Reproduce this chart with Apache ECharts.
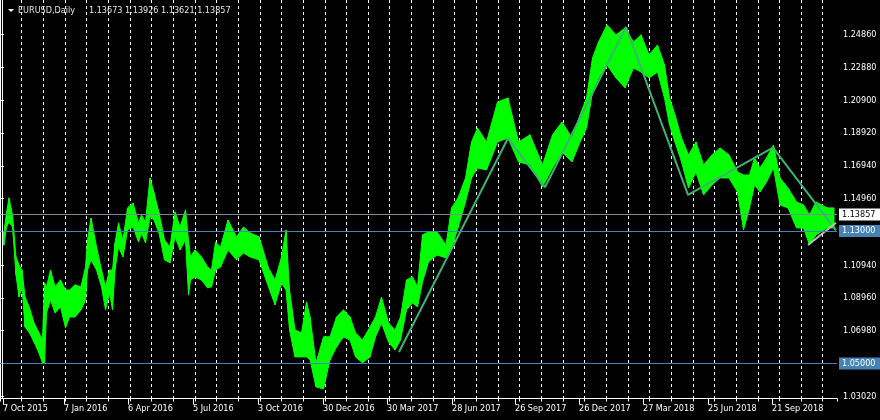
<!DOCTYPE html>
<html><head><meta charset="utf-8">
<script src="https://cdn.jsdelivr.net/npm/echarts@6/dist/echarts.min.js"></script>
<style>html,body{margin:0;padding:0;background:#000}#c{width:880px;height:420px}</style>
</head><body><div id="c"></div>
<script>
// ---- data (x = bar index, 1 bar per pixel column) ----
const symbolTitle = 'EURUSD,Daily';
const ohlcText = '1.13673 1.13926 1.13621 1.13857';
const dateLabels = ['7 Oct 2015','7 Jan 2016','6 Apr 2016','5 Jul 2016','3 Oct 2016','30 Dec 2016','30 Mar 2017','28 Jun 2017','26 Sep 2017','26 Dec 2017','27 Mar 2018','25 Jun 2018','21 Sep 2018'];
const dateLabelBars = [3,64,128,193,258,323,387,452,515,579,643,708,772];
const priceTicks = [1.2486,1.2288,1.2090,1.1892,1.1694,1.1496,1.1094,1.0896,1.0698,1.0302];
const segStart = [3,5,8,10,15,17,21,23,27,32,36,41,44,45,48,53,57,64,67,72,78,84,87,88,94,99,104,107,112,113,117,120,126,129,137,140,143,148,152,156,162,167,173,177,183,188,189,192,198,205,
210,213,218,223,233,240,247,253,265,272,278,285,287,292,298,305,308,312,320,327,333,340,347,353,358,367,373,378,385,392,398,403,410,415,
420,425,432,442,450,453,463,468,475,480,493,502,514,523,537,548,557,567,577,583,590,595,602,612,620,
630,637,645,653,662,667,672,678,685,692,700,707,717,723,735,740,747,752,757,763,770,777,783,793,800,807,812,820];
const segHigh = [1.1295,1.1410,1.1500,1.1397,1.1144,1.1095,1.1065,1.0902,1.0836,1.0745,1.0691,1.0642,1.0987,1.0963,1.1065,1.0963,1.1005,1.0944,1.0944,1.0975,1.0963,1.1083,1.1246,1.1379,1.1204,1.1065,1.0963,1.1065,1.1065,1.1228,1.1349,1.1246,1.1440,1.1470,1.1349,1.1397,1.1355,1.1621,1.1530,1.1410,1.1246,1.1204,1.1416,1.1325,1.1428,1.1246,1.1144,1.1186,1.1144,1.1083,
1.1065,1.1234,1.1204,1.1367,1.1265,1.1325,1.1289,1.1265,1.1077,1.1005,1.1144,1.1307,1.0944,1.0703,1.0685,1.0872,1.0781,1.0504,1.0661,1.0661,1.0781,1.0824,1.0781,1.0685,1.0642,1.0721,1.0781,1.0902,1.0745,1.0703,1.0781,1.1005,1.1023,1.0963,
1.1277,1.1295,1.1295,1.1216,1.1440,1.1500,1.1621,1.1838,1.1923,1.1838,1.2080,1.2104,1.1838,1.1881,1.1699,1.1881,1.1959,1.1862,1.2001,1.2104,1.2346,1.2442,1.2545,1.2485,1.2527,
1.2442,1.2485,1.2364,1.2424,1.2303,1.2104,1.2001,1.1862,1.1760,1.1838,1.1699,1.1760,1.1802,1.1760,1.1657,1.1639,1.1639,1.1742,1.1681,1.1742,1.1820,1.1621,1.1560,1.1476,1.1458,1.1397,1.1476,1.1440];
const segLow = [1.1216,1.1325,1.1355,1.1325,1.1035,1.0902,1.0963,1.0721,1.0685,1.0630,1.0570,1.0504,1.0504,1.0806,1.0884,1.0806,1.0842,1.0715,1.0781,1.0781,1.0824,1.0884,1.1065,1.1126,1.1065,1.0963,1.0824,1.0926,1.0824,1.1065,1.1204,1.1144,1.1307,1.1325,1.1234,1.1289,1.1228,1.1385,1.1367,1.1289,1.1126,1.1108,1.1265,1.1186,1.1246,1.0914,1.1005,1.1023,1.1005,1.0957,
1.0963,1.1065,1.1083,1.1186,1.1126,1.1168,1.1144,1.1126,1.0963,1.0854,1.0987,1.0944,1.0703,1.0540,1.0540,1.0540,1.0522,1.0359,1.0346,1.0522,1.0600,1.0661,1.0642,1.0540,1.0504,1.0540,1.0661,1.0745,1.0630,1.0582,1.0642,1.0824,1.0866,1.0842,
1.0993,1.1114,1.1156,1.1138,1.1198,1.1319,1.1476,1.1621,1.1681,1.1669,1.1838,1.1862,1.1718,1.1699,1.1567,1.1681,1.1778,1.1718,1.1838,1.1923,1.2140,1.2225,1.2303,1.2225,1.2165,
1.2285,1.2261,1.2225,1.2261,1.2104,1.1941,1.1838,1.1718,1.1560,1.1657,1.1518,1.1579,1.1621,1.1621,1.1536,1.1307,1.1440,1.1579,1.1536,1.1597,1.1681,1.1458,1.1440,1.1319,1.1319,1.1216,1.1277,1.1319];
const lastBarEnd = 834;
const zigzagBars = [399,508,545,626,688,773,836];
const zigzagPrices = [1.0570,1.1861,1.1565,1.2532,1.1518,1.1804,1.1304];
const trendBars = [808,836];
const trendPrices = [1.1216,1.1350];
const bidPrice = 1.13857;
const levelPrices = [1.13000,1.05000];

// ---- build: high/low band through the centre of each segment ----
const ends = segStart.map((s,i)=> i+1<segStart.length ? segStart[i+1] : lastBarEnd);
const pts = [[segStart[0], segHigh[0], segLow[0]]];
segStart.forEach((s,i)=>pts.push([(s+ends[i])/2, segHigh[i], segLow[i]]));
pts.push([lastBarEnd, segHigh[segHigh.length-1], segLow[segLow.length-1]]);
const bandData = [];
for (let i=0;i<pts.length-1;i++) bandData.push([pts[i][0], pts[i][1], pts[i][2], pts[i+1][0], pts[i+1][1], pts[i+1][2]]);

const FONT = '"DejaVu Sans Condensed","Liberation Sans Narrow",sans-serif';
const chart = echarts.init(document.getElementById('c'), null, {renderer:'canvas'});
const labelBox = (txt, bg, fg) => ({show:true, position:'end', distance:2, formatter:txt, backgroundColor:bg, color:fg,
  fontFamily:FONT, fontSize:9, padding:[2,5,1,3]});
chart.setOption({
  animation:false,
  backgroundColor:'#000',
  grid:{left:0, right:43, top:0, bottom:21.5, containLabel:false},
  xAxis:[{
    type:'value', min:0, max:837, interval:21.65,
    axisLine:{show:true, lineStyle:{color:'#fff', width:1}},
    axisTick:{show:true, length:3, lineStyle:{color:'#fff'}},
    axisLabel:{show:false},
    splitLine:{show:true, showMinLine:false, showMaxLine:false, lineStyle:{color:'#fff', width:1, type:[3,3]}}
  },{
    type:'value', min:0, max:837, position:'bottom',
    axisLine:{show:false},
    axisTick:{show:true, length:6, customValues:dateLabelBars, lineStyle:{color:'#fff'}},
    axisLabel:{show:true, customValues:dateLabelBars, color:'#fff', fontFamily:FONT, fontSize:9, margin:6, align:'left',
      formatter:(v)=>{const i=dateLabelBars.indexOf(Math.round(v)); return i>=0?dateLabels[i]:'';}},
    splitLine:{show:false}
  }],
  yAxis:{
    type:'value', position:'right', min:1.02887, max:1.26956, scale:true,
    axisLine:{show:true, lineStyle:{color:'#fff', width:1}},
    axisTick:{show:true, length:4, customValues:priceTicks, lineStyle:{color:'#fff'}},
    axisLabel:{show:true, customValues:priceTicks, color:'#fff', fontFamily:FONT, fontSize:9, margin:6,
      formatter:(v)=>v.toFixed(5)},
    splitLine:{show:false}
  },
  graphic:[
    {type:'line', shape:{x1:2.5,y1:0,x2:2.5,y2:398.5}, style:{stroke:'#fff', lineWidth:1}, z:50},
    {type:'polygon', shape:{points:[[8,9],[14,9],[11,12]]}, style:{fill:'#fff'}, z:50},
    {type:'text', x:18, y:10.5, style:{text:symbolTitle, fill:'#e6e6e6', font:'9px '+FONT, textVerticalAlign:'middle'}, z:50},
    {type:'text', x:89, y:10.5, style:{text:ohlcText, fill:'#e6e6e6', font:'9px '+FONT, textVerticalAlign:'middle'}, z:50}
  ],
  series:[
    {type:'custom', name:'EURUSD', xAxisIndex:0, clip:true, z:2,
     encode:{x:[0,3], y:[1,2,4,5]},
     renderItem:(params, api)=>{
       const a = api.coord([api.value(0), api.value(1)]);
       const b = api.coord([api.value(3), api.value(4)]);
       const c = api.coord([api.value(3), api.value(5)]);
       const d = api.coord([api.value(0), api.value(2)]);
       return {type:'polygon', shape:{points:[a,b,c,d]},
         style:{fill:'#00ff00', stroke:'#00ff00', lineWidth:1}};
     },
     data:bandData},
    {type:'line', name:'ZigZag', xAxisIndex:0, z:4, symbol:'none', silent:true,
     lineStyle:{color:'#3cb371', width:2},
     data:zigzagBars.map((b,i)=>[b, zigzagPrices[i]]),
     markLine:{silent:true, symbol:'none', animation:false,
       data:[
         {yAxis:bidPrice, lineStyle:{color:'#778899', width:1, type:'solid'}, label:labelBox(bidPrice.toFixed(5),'#ffffff','#000')},
         {yAxis:levelPrices[0], lineStyle:{color:'#4682b4', width:1, type:'solid'}, label:labelBox(levelPrices[0].toFixed(5),'#4682b4','#fff')},
         {yAxis:levelPrices[1], lineStyle:{color:'#4682b4', width:1, type:'solid'}, label:labelBox(levelPrices[1].toFixed(5),'#4682b4','#fff')}
       ]}},
    {type:'line', name:'Trend', xAxisIndex:0, z:4, symbol:'none', silent:true,
     lineStyle:{color:'#bdbdbd', width:2},
     data:trendBars.map((b,i)=>[b, trendPrices[i]])}
  ]
});
</script></body></html>
